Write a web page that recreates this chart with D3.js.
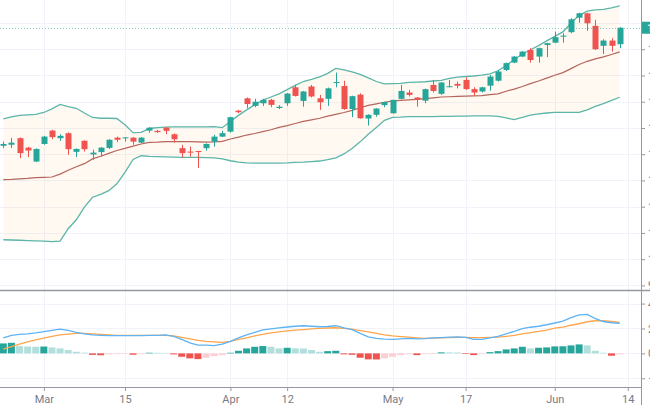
<!DOCTYPE html>
<html><head><meta charset="utf-8">
<script src="https://cdn.jsdelivr.net/npm/d3@7"></script>
<style>html,body{margin:0;padding:0;background:#fff;overflow:hidden}</style>
</head><body><svg id="c" width="650" height="405"></svg>
<script>
// ---------- data ----------
const open  = [143.2,143.6,146.1,142.5,137.2,143.9,149.0,146.1,148.0,140.9,145.1,139.9,140.8,142.4,146.3,146.2,146.3,144.4,149.0,148.9,150.1,147.6,142.3,141.0,141.2,142.3,144.8,146.7,148.6,156.6,161.3,158.4,159.4,160.7,157.6,159.4,165.5,160.3,165.8,161.3,161.1,167.3,166.0,157.2,162.7,153.6,155.0,158.7,155.6,161.1,163.5,161.6,160.4,166.4,163.0,165.8,166.8,168.3,164.8,163.9,166.1,168.0,172.1,174.9,177.2,179.7,177.2,181.6,182.5,184.8,186.5,192.0,193.7,188.9,181.3,183.3,181.9];
const high  = [144.8,146.2,146.4,142.8,142.2,147.0,149.3,147.6,148.3,142.2,145.3,141.7,142.7,145.7,146.7,146.5,146.5,146.5,150.3,149.3,150.4,147.9,143.6,142.9,141.3,144.1,147.4,148.9,154.3,156.9,161.6,161.1,161.1,161.1,158.7,163.3,166.4,164.1,166.4,162.6,165.4,171.1,168.0,162.3,163.2,155.2,157.5,160.0,160.8,166.4,164.5,161.8,165.0,168.3,167.5,168.3,167.7,169.3,165.5,165.7,170.2,172.1,174.9,177.4,179.3,180.4,180.6,182.5,186.7,186.1,191.8,193.9,193.9,191.2,183.8,184.2,188.4];
const low   = [142.3,142.4,138.5,138.9,137.0,143.6,145.7,145.1,139.8,138.9,141.0,137.9,139.1,142.0,144.6,144.8,143.6,144.2,148.2,148.2,147.6,144.4,138.7,139.1,134.7,141.4,142.9,146.5,148.2,155.6,157.5,157.9,158.4,157.9,157.2,158.4,162.0,158.1,161.6,156.9,158.4,165.5,156.9,154.1,153.5,150.9,154.3,157.9,155.4,160.9,162.0,158.1,159.4,163.5,162.6,165.5,165.1,164.5,162.3,163.5,164.2,167.7,171.7,174.7,177.0,174.9,174.9,177.0,182.3,182.5,186.1,190.1,187.0,179.7,178.2,179.1,180.4];
const close = [143.9,144.4,140.4,141.4,142.0,146.7,146.5,147.0,141.9,142.0,141.9,140.6,142.5,145.5,145.5,146.4,144.8,146.3,150.1,148.4,148.9,145.7,140.4,140.6,140.9,143.9,146.7,148.0,154.1,156.0,159.1,160.0,160.7,158.8,158.1,163.1,162.2,163.9,162.0,159.8,165.1,167.5,157.2,162.1,153.7,155.0,157.4,159.9,160.7,164.1,162.6,160.7,164.8,164.1,167.3,165.9,166.1,164.8,163.5,165.5,169.6,171.5,174.7,177.2,179.1,175.9,180.4,182.3,184.6,185.2,191.4,193.7,189.9,180.0,183.3,181.3,188.2];

const bbUpper = [153.5,154.2,154.8,155.0,155.2,155.9,157.3,159.0,158.1,157.5,155.7,154.0,153.7,153.7,153.6,151.2,148.2,148.3,149.8,150.1,150.3,150.4,150.4,150.4,150.4,150.4,150.5,150.1,152.5,154.8,156.9,158.8,160.6,161.8,163.0,164.6,166.2,167.7,168.5,169.5,170.8,172.7,172.1,171.4,170.4,169.1,167.7,166.8,166.9,167.0,167.4,167.5,167.6,167.9,168.1,168.9,169.4,169.6,169.8,170.1,170.6,171.8,173.8,176.1,178.2,179.8,181.4,183.2,184.9,186.6,190.0,192.9,194.5,195.0,195.2,195.8,196.5];
const bbBasis = [130.3,130.4,130.6,130.8,131.1,131.2,131.3,132.4,133.9,135.2,136.4,138.2,139.2,140.3,141.4,142.2,143.1,143.9,144.5,144.6,144.8,144.8,144.8,144.8,144.7,144.6,144.7,144.9,145.8,146.5,147.3,147.9,148.6,149.3,150.2,150.9,151.7,152.5,153.1,153.7,154.5,155.2,155.9,156.7,157.7,158.6,159.2,159.8,160.3,160.5,160.7,160.9,161.2,161.5,161.8,161.9,162.0,162.1,162.2,162.3,162.7,163.0,164.0,164.8,165.8,166.9,167.9,169.0,170.1,171.1,172.6,174.2,175.4,176.3,177.1,178.0,179.0];
const bbLower = [107.4,107.3,107.2,107.1,107.0,106.9,106.7,106.9,111.6,115.0,119.8,123.6,124.7,126.1,128.7,133.1,138.0,139.4,139.2,139.1,139.0,138.9,138.8,138.8,138.8,138.7,138.6,138.2,137.5,137.0,136.7,136.6,136.6,136.6,136.6,136.7,136.9,137.0,137.2,137.4,137.9,138.6,140.1,142.2,144.7,147.6,150.2,152.9,154.0,154.1,154.3,154.3,154.3,154.3,154.4,154.4,154.5,154.5,154.6,154.6,154.6,154.4,153.8,153.2,154.0,154.9,155.4,155.7,155.9,155.9,155.9,155.9,156.9,158.2,159.3,160.5,161.7];

const macdLine   = [1.24,1.44,1.53,1.57,1.64,1.74,1.84,1.94,1.84,1.69,1.56,1.48,1.45,1.42,1.42,1.42,1.42,1.43,1.44,1.45,1.48,1.36,1.12,0.84,0.67,0.66,0.63,0.75,0.96,1.24,1.48,1.69,1.88,1.96,2.04,2.12,2.18,2.22,2.18,2.14,2.16,2.22,2.04,1.90,1.60,1.32,1.20,1.14,1.13,1.17,1.21,1.16,1.19,1.24,1.27,1.30,1.33,1.28,1.13,1.13,1.24,1.37,1.57,1.77,1.99,2.10,2.18,2.30,2.44,2.59,2.87,3.10,3.13,2.79,2.56,2.46,2.42];
const signalLine = [0.35,0.55,0.75,0.92,1.08,1.22,1.36,1.48,1.54,1.60,1.60,1.56,1.52,1.48,1.45,1.45,1.45,1.45,1.45,1.45,1.45,1.40,1.28,1.16,1.05,0.97,0.92,0.88,0.96,1.12,1.25,1.40,1.53,1.64,1.73,1.81,1.86,1.91,1.96,2.00,2.04,2.06,2.00,1.94,1.83,1.72,1.61,1.48,1.40,1.35,1.30,1.25,1.21,1.22,1.24,1.26,1.28,1.28,1.26,1.27,1.28,1.30,1.37,1.45,1.56,1.66,1.77,1.86,2.02,2.10,2.26,2.38,2.54,2.62,2.62,2.56,2.48];
const histogram  = [0.80,0.85,0.58,0.55,0.53,0.55,0.48,0.40,0.27,0.13,0.06,-0.12,-0.15,-0.08,-0.06,-0.05,-0.11,-0.06,0.05,0.05,0.04,-0.08,-0.27,-0.40,-0.46,-0.35,-0.22,-0.14,0.05,0.21,0.40,0.53,0.59,0.53,0.40,0.45,0.40,0.39,0.27,0.13,0.18,0.21,-0.08,-0.11,-0.35,-0.48,-0.49,-0.40,-0.27,-0.14,-0.08,-0.14,-0.06,-0.05,0.08,0.08,0.07,-0.05,-0.14,-0.06,0.10,0.18,0.32,0.40,0.53,0.40,0.45,0.48,0.56,0.57,0.64,0.72,0.64,0.21,0.05,-0.19,-0.08];

const timeTickLabels = ["Mar","15","Apr","12","May","17","Jun","14"];
const timeTickBars   = [5,15,28,35,48,57,68,77];
const priceTicks = [90,100,110,120,130,140,150,160,170,180,190];
const macdTicks  = [-2,0,2,4];

// ---------- layout ----------
const axisX = 641, mainTop = 0, mainBottom = 290, macdTop = 290, macdBottom = 387;
const UP = "#26a69a", DOWN = "#ef5350", GRID = "#f0f3fa", AXIS = "#9598a1", TXT = "#787b86";
const FONT = "Roboto, 'Liberation Sans', Arial, sans-serif";

const svg = d3.select("#c");
const n = close.length;
const idx = d3.range(n);

const x  = d3.scaleLinear().domain([-0.407, 78.63]).range([0, axisX]);
const y  = d3.scaleLinear().domain([88.25, 198.76]).range([mainBottom, mainTop]);
const ym = d3.scaleLinear().domain([-2.70, 5.09]).range([macdBottom, macdTop]);

svg.append("rect").attr("width",650).attr("height",405).attr("fill","#fff");

const defs = svg.append("defs");
defs.append("clipPath").attr("id","clipMain").append("rect").attr("x",0).attr("y",mainTop).attr("width",axisX).attr("height",mainBottom-mainTop);
defs.append("clipPath").attr("id","clipMacd").append("rect").attr("x",0).attr("y",macdTop).attr("width",axisX).attr("height",macdBottom-macdTop);

// grid
const grid = svg.append("g").attr("stroke", GRID).attr("stroke-width",1);
grid.selectAll("line.h").data(priceTicks).join("line")
  .attr("x1",0).attr("x2",axisX).attr("y1",d=>Math.round(y(d))+0.5).attr("y2",d=>Math.round(y(d))+0.5);
grid.selectAll("line.m").data(macdTicks).join("line")
  .attr("x1",0).attr("x2",axisX).attr("y1",d=>Math.round(ym(d))+0.5).attr("y2",d=>Math.round(ym(d))+0.5);
grid.selectAll("line.v").data(timeTickBars).join("line")
  .attr("y1",0).attr("y2",macdBottom).attr("x1",d=>Math.round(x(d))+0.5).attr("x2",d=>Math.round(x(d))+0.5);

// ---------- main pane ----------
const main = svg.append("g").attr("clip-path","url(#clipMain)");

main.append("path").datum(idx)
  .attr("fill","rgba(255,152,0,0.055)")
  .attr("d", d3.area().x(i=>x(i)).y0(i=>y(bbLower[i])).y1(i=>y(bbUpper[i])));

const lineOf = arr => d3.line().x(i=>x(i)).y(i=>y(arr[i]));
main.append("path").datum(idx).attr("fill","none").attr("stroke","#b5655c").attr("stroke-width",1.2).attr("d", lineOf(bbBasis));
main.append("path").datum(idx).attr("fill","none").attr("stroke","#5cb5a9").attr("stroke-width",1.3).attr("d", lineOf(bbUpper));
main.append("path").datum(idx).attr("fill","none").attr("stroke","#5cb5a9").attr("stroke-width",1.3).attr("d", lineOf(bbLower));

// last price dotted line
const lastPrice = close[n-1];
svg.append("line").attr("x1",0).attr("x2",axisX)
  .attr("y1",Math.round(y(lastPrice))+0.5).attr("y2",Math.round(y(lastPrice))+0.5)
  .attr("stroke",UP).attr("stroke-opacity",0.55).attr("stroke-dasharray","1,2");

// candles
const cg = main.append("g");
const bw = 6;
cg.selectAll("line.w").data(idx).join("line")
  .attr("x1",i=>Math.round(x(i))+0.5).attr("x2",i=>Math.round(x(i))+0.5)
  .attr("y1",i=>y(high[i])).attr("y2",i=>y(low[i]))
  .attr("stroke",i=>close[i]>=open[i]?UP:DOWN).attr("stroke-width",1);
cg.selectAll("rect.b").data(idx).join("rect")
  .attr("x",i=>Math.round(x(i))+0.5-bw/2).attr("width",bw)
  .attr("y",i=>y(Math.max(open[i],close[i])))
  .attr("height",i=>Math.max(1, Math.abs(y(open[i])-y(close[i]))))
  .attr("fill",i=>close[i]>=open[i]?UP:DOWN);

// ---------- MACD pane ----------
const mp = svg.append("g").attr("clip-path","url(#clipMacd)");
const histColor = i => {
  const h = histogram[i], p = i>0 ? histogram[i-1] : -Infinity;
  if (h >= 0) return p < h ? "#26a69a" : "#b2dfdb";
  return p < h ? "#ffcdd2" : "#ef5350";
};
const hw = 7;
mp.selectAll("rect.h").data(idx).join("rect")
  .attr("x",i=>x(i)-hw/2).attr("width",hw)
  .attr("y",i=>Math.min(ym(0),ym(histogram[i])))
  .attr("height",i=>Math.abs(ym(histogram[i])-ym(0)))
  .attr("fill",histColor);
mp.append("path").datum(idx).attr("fill","none").attr("stroke","#ffa64d").attr("stroke-width",1.3)
  .attr("d", d3.line().x(i=>x(i)).y(i=>ym(signalLine[i])));
mp.append("path").datum(idx).attr("fill","none").attr("stroke","#5eb3f5").attr("stroke-width",1.3)
  .attr("d", d3.line().x(i=>x(i)).y(i=>ym(macdLine[i])));

// ---------- axes ----------
const lastY = y(close[n-1]);
const pAxis = svg.append("g").attr("transform",`translate(${axisX},0)`)
  .call(d3.axisRight(y).tickValues(priceTicks.filter(v=>Math.abs(y(v)-lastY)>10)).tickSize(4).tickPadding(3).tickFormat(d3.format("d")));
const mAxis = svg.append("g").attr("transform",`translate(${axisX},0)`)
  .call(d3.axisRight(ym).tickValues(macdTicks).tickSize(4).tickPadding(3).tickFormat(d=>d3.format(".2f")(d).replace("-","−")));
const tAxis = svg.append("g").attr("transform",`translate(0,${macdBottom})`)
  .call(d3.axisBottom(x).tickValues(timeTickBars).tickSize(4).tickPadding(4).tickFormat((d,i)=>timeTickLabels[i]));
[pAxis,mAxis,tAxis].forEach(a=>{
  a.select(".domain").remove();
  a.selectAll(".tick line").attr("stroke",AXIS);
  a.selectAll(".tick text").attr("fill",TXT).style("font-family",FONT).style("font-size","11px");
});

// axis lines and pane separator
svg.append("line").attr("x1",axisX+0.5).attr("x2",axisX+0.5).attr("y1",0).attr("y2",405).attr("stroke",AXIS).attr("stroke-width",1);
svg.append("line").attr("x1",0).attr("x2",650).attr("y1",macdTop+0.5).attr("y2",macdTop+0.5).attr("stroke",AXIS).attr("stroke-width",1.5);
svg.append("line").attr("x1",0).attr("x2",axisX).attr("y1",macdBottom+0.5).attr("y2",macdBottom+0.5).attr("stroke",AXIS).attr("stroke-width",1);

// last price label
svg.append("rect").attr("x",axisX+1).attr("y",lastY-6).attr("width",60).attr("height",12).attr("fill",UP);
svg.append("text").attr("x",axisX+6).attr("y",lastY+4).attr("fill","#fff")
  .style("font-family",FONT).style("font-size","11px").text(d3.format(".2f")(close[n-1]));
</script>
</body></html>
